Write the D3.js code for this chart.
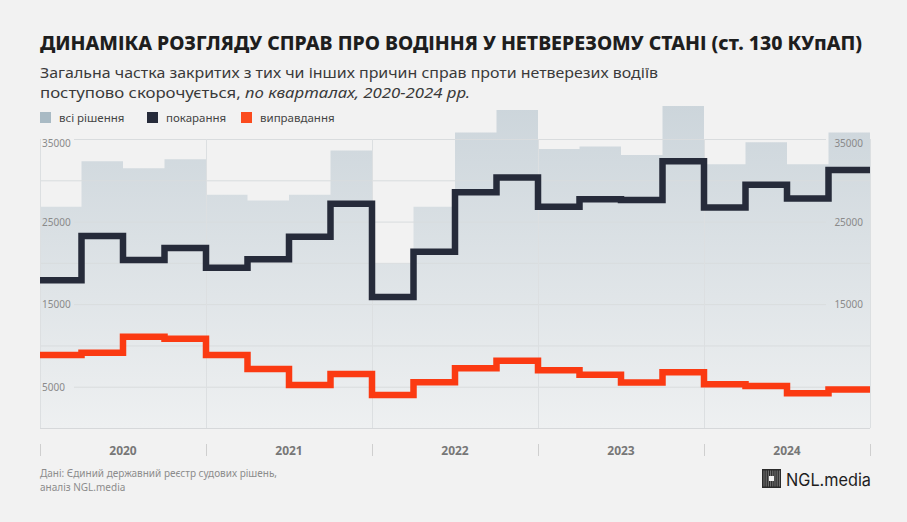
<!DOCTYPE html>
<html>
<head>
<meta charset="utf-8">
<script src="https://cdn.jsdelivr.net/npm/d3@7"></script>
<style>
  body { margin: 0; background: #f2f2f2; }
  svg { display: block; font-family: "Noto Sans", sans-serif; }
</style>
</head>
<body>
<div id="chart"></div>
<script>
// quarterly counts, 2020 Q1 .. 2024 Q4
const years = ["2020", "2021", "2022", "2023", "2024"];
const quarters = years.flatMap(y => ["Q1", "Q2", "Q3", "Q4"].map(q => y + q));
const allDecisions = [26800, 32300, 31450, 32550, 28250, 27550, 28250, 33600,
  19900, 26800, 35800, 38500, 33800, 34100, 33050, 39000, 31950, 34600, 31950, 35800];
const punished = [17900, 23250, 20350, 21800, 19400, 20450, 23150, 27150,
  15850, 21350, 28550, 30350, 26800, 27700, 27600, 32300, 26700, 29450, 27800, 31250];
const acquitted = [8850, 9100, 11050, 10800, 8850, 7150, 5200, 6550,
  4000, 5550, 7250, 8150, 7000, 6450, 5500, 6750, 5300, 5100, 4200, 4650];
const yTicks = [5000, 10000, 15000, 20000, 25000, 30000, 35000];
const yLabelsLeft = [5000, 15000, 25000, 35000];
const yLabelsRight = [15000, 25000, 35000];

const width = 907, height = 522,
  margin = ({ top: 139, right: 37, bottom: 94, left: 40 });

const x = d3.scaleLinear()
  .domain([0, quarters.length])
  .range([margin.left, width - margin.right]);

const y = d3.scaleLinear()
  .domain([0, 35000])
  .range([height - margin.bottom, margin.top]);

const svg = d3.select("#chart")
  .append("svg")
  .attr("width", width)
  .attr("height", height)
  .attr("viewBox", [0, 0, width, height]);

svg.append("rect").attr("width", width).attr("height", height).attr("fill", "#f2f2f2");

// title and subtitle
svg.append("text")
  .attr("x", 40).attr("y", 50)
  .attr("font-size", 20).attr("font-weight", 800).attr("fill", "#1e1e1e")
  .attr("textLength", 822).attr("lengthAdjust", "spacingAndGlyphs")
  .text("ДИНАМІКА РОЗГЛЯДУ СПРАВ ПРО ВОДІННЯ У НЕТВЕРЕЗОМУ СТАНІ (ст. 130 КУпАП)");

svg.append("text")
  .attr("x", 40).attr("y", 78)
  .attr("font-size", 15).attr("fill", "#3a3a3a")
  .attr("textLength", 618).attr("lengthAdjust", "spacingAndGlyphs")
  .text("Загальна частка закритих з тих чи інших причин справ проти нетверезих водіїв");

const sub2 = svg.append("text")
  .attr("x", 40).attr("y", 98)
  .attr("font-size", 15).attr("fill", "#3a3a3a")
  .attr("textLength", 430).attr("lengthAdjust", "spacingAndGlyphs");
sub2.append("tspan").text("поступово скорочується, ");
sub2.append("tspan").attr("font-style", "italic").text("по кварталах, 2020-2024 рр.");

// legend
const legend = [
  { label: "всі рішення", color: "#a9bac4", x: 40 },
  { label: "покарання", color: "#262b3a", x: 147 },
  { label: "виправдання", color: "#fb4b1e", x: 241 }
];
const lg = svg.append("g").selectAll("g").data(legend).join("g")
  .attr("transform", d => `translate(${d.x},112)`);
lg.append("rect").attr("width", 11).attr("height", 11).attr("fill", d => d.color);
lg.append("text").attr("x", 19).attr("y", 10)
  .attr("font-size", 11.5).attr("fill", "#444").text(d => d.label);

// area gradient
const grad = svg.append("defs").append("linearGradient")
  .attr("id", "areaGrad").attr("gradientUnits", "userSpaceOnUse")
  .attr("x1", 0).attr("x2", 0).attr("y1", 104).attr("y2", height - margin.bottom);
grad.append("stop").attr("offset", 0).attr("stop-color", "#ccd5db");
grad.append("stop").attr("offset", 1).attr("stop-color", "#eef0f1");

const stepped = arr => arr.map((v, i) => [i, v]).concat([[arr.length, arr[arr.length - 1]]]);

svg.append("path")
  .datum(stepped(allDecisions))
  .attr("fill", "url(#areaGrad)")
  .attr("d", d3.area()
    .x(d => x(d[0]))
    .y0(y(0))
    .y1(d => y(d[1]))
    .curve(d3.curveStepAfter));

// grid: labelled lines leave room for the labels at both ends
const grid = svg.append("g");
grid.selectAll("line.h").data(yTicks).join("line")
  .attr("class", "h")
  .attr("x1", d => yLabelsLeft.includes(d) ? x(0) + 34 : x(0))
  .attr("x2", d => yLabelsRight.includes(d) ? x(20) - 44 : x(20))
  .attr("y1", d => y(d) + 0.5).attr("y2", d => y(d) + 0.5)
  .attr("stroke", "#d9dcde").attr("stroke-width", 1);

grid.selectAll("line.v").data(d3.range(0, 21, 4)).join("line")
  .attr("class", "v")
  .attr("x1", d => x(d) + 0.5).attr("x2", d => x(d) + 0.5)
  .attr("y1", y(35000)).attr("y2", y(0))
  .attr("stroke", "#dcdfe1").attr("stroke-width", 1);

grid.append("line")
  .attr("x1", x(0)).attr("x2", x(20))
  .attr("y1", y(0) + 0.5).attr("y2", y(0) + 0.5)
  .attr("stroke", "#d6d8da");

// y labels, left and right, centred on their lines
const lab = svg.append("g").attr("font-size", 10).attr("fill", "#8a8a8a")
  .attr("dominant-baseline", "central");
lab.selectAll("text.l").data(yLabelsLeft).join("text")
  .attr("class", "l")
  .attr("x", x(0) + 2).attr("y", d => y(d) + (d === 35000 ? 4 : 0))
  .text(d => d);
lab.selectAll("text.r").data(yLabelsRight).join("text")
  .attr("class", "r")
  .attr("x", x(20) - 7).attr("y", d => y(d) + (d === 35000 ? 4 : 0))
  .attr("text-anchor", "end")
  .text(d => d);

// lines
const line = d3.line()
  .x(d => x(d[0]))
  .y(d => y(d[1]))
  .curve(d3.curveStepAfter);

svg.append("path")
  .datum(stepped(punished))
  .attr("fill", "none")
  .attr("stroke", "#262b3a")
  .attr("stroke-width", 6.5)
  .attr("stroke-linejoin", "miter")
  .attr("d", line);

svg.append("path")
  .datum(stepped(acquitted))
  .attr("fill", "none")
  .attr("stroke", "#fb3a12")
  .attr("stroke-width", 6.5)
  .attr("stroke-linejoin", "miter")
  .attr("d", line);

// x axis: year ticks and labels
const xa = svg.append("g");
xa.selectAll("line").data(d3.range(0, 21, 4)).join("line")
  .attr("x1", d => x(d) + 0.5).attr("x2", d => x(d) + 0.5)
  .attr("y1", 444).attr("y2", 456)
  .attr("stroke", "#cfcfcf");
xa.selectAll("text").data(years).join("text")
  .attr("x", (d, i) => x(i * 4 + 2)).attr("y", 455)
  .attr("text-anchor", "middle")
  .attr("font-size", 12).attr("font-weight", 700).attr("fill", "#777")
  .text(d => d);

// footer
const foot = svg.append("g").attr("font-size", 10).attr("fill", "#8c8c8c");
foot.append("text").attr("x", 40).attr("y", 476.5).text("Дані: Єдиний державний реєстр судових рішень,");
foot.append("text").attr("x", 40).attr("y", 490.5).text("аналіз NGL.media");

// logo
const logo = svg.append("g").attr("transform", "translate(762,469)");
logo.append("rect").attr("width", 19).attr("height", 19).attr("fill", "#2b2b2b");
logo.selectAll("line").data(d3.range(2, 18, 2.2)).join("line")
  .attr("x1", d => d).attr("x2", d => d).attr("y1", 1.5).attr("y2", 17.5)
  .attr("stroke", "#8a8a8a").attr("stroke-width", 0.8);
logo.append("rect").attr("x", 7).attr("y", 7).attr("width", 5).attr("height", 5).attr("fill", "#f2f2f2");
svg.append("text")
  .attr("x", 786).attr("y", 486)
  .attr("font-family", "Inter, sans-serif")
  .attr("font-size", 17).attr("fill", "#1e1e1e")
  .attr("textLength", 85).attr("lengthAdjust", "spacingAndGlyphs")
  .text("NGL.media");
</script>
</body>
</html>
